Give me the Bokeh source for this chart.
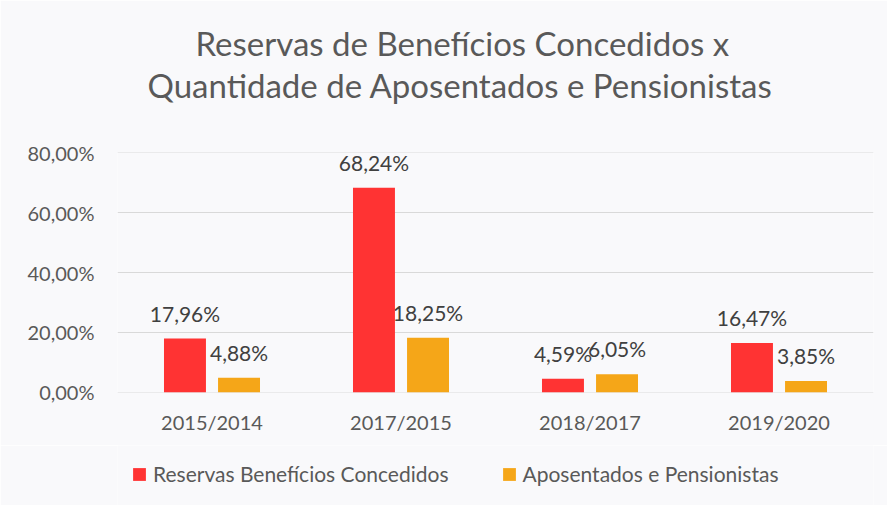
from bokeh.plotting import figure
from bokeh.layouts import column
from bokeh.models import (ColumnDataSource, FactorRange, LabelSet, Title, Legend, LegendItem,
                          FixedTicker, CustomJSTickFormatter, Range1d)
from bokeh.transform import dodge
from bokeh.core.properties import value
from bokeh.embed import file_html
from bokeh.resources import INLINE

# ---- data ----
categories = ["2015/2014", "2017/2015", "2018/2017", "2019/2020"]
reservas = [17.96, 68.24, 4.59, 16.47]
aposentados = [4.88, 18.25, 6.05, 3.85]
y_ticks = [0, 20, 40, 60, 80]
series_names = ["Reservas Benefícios Concedidos", "Aposentados e Pensionistas"]
title_lines = ["Reservas de Benefícios Concedidos x", "Quantidade de Aposentados e Pensionistas"]

def fmt(v):
    return ("%.2f" % v).replace(".", ",") + "%"

src = ColumnDataSource(dict(
    cat=categories,
    res=reservas,
    apo=aposentados,
    res_lbl=[fmt(v) for v in reservas],
    apo_lbl=[fmt(v) for v in aposentados],
))

FONT = "Lato"
BG = "#F9F9FB"
RED = "#FF3333"
ORANGE = "#F5A618"

p = figure(width=887, height=445, x_range=FactorRange(*categories, range_padding=0),
           y_range=(-0.02, 80.02), output_backend="svg", toolbar_location=None,
           min_border_left=117, min_border_right=14, min_border_top=152, min_border_bottom=53,
           background_fill_color=BG, border_fill_color=BG)
p.outline_line_color = None
p.title.text = ""

p.vbar(x=dodge("cat", -0.143, range=p.x_range), top="res", width=0.222, source=src,
       fill_color=RED, line_color=None)
p.vbar(x=dodge("cat", 0.143, range=p.x_range), top="apo", width=0.222, source=src,
       fill_color=ORANGE, line_color=None)

for col, lbl, off in (("res", "res_lbl", -0.143), ("apo", "apo_lbl", 0.143)):
    p.add_layout(LabelSet(x=dodge("cat", off, range=p.x_range), y=col, text=lbl, source=src,
                          y_offset=17, text_align="center", text_baseline="alphabetic",
                          text_font=value(FONT), text_font_size="21px", text_color="#404040"))

# axes
p.yaxis.ticker = FixedTicker(ticks=y_ticks)
p.yaxis.formatter = CustomJSTickFormatter(code="return tick.toFixed(2).replace('.', ',') + '%';")
for ax in (p.xaxis[0], p.yaxis[0]):
    ax.axis_line_color = None
    ax.major_tick_line_color = None
    ax.minor_tick_line_color = None
    ax.major_label_text_font = FONT
    ax.major_label_text_font_size = "20px"
    ax.major_label_text_color = "#595959"
p.yaxis.major_label_standoff = 17
p.xaxis.major_label_standoff = 11

p.xgrid.grid_line_color = None
p.ygrid.ticker = FixedTicker(ticks=y_ticks)
p.ygrid.grid_line_color = "#D9D9D9"
p.ygrid.grid_line_width = 1

# title: spacer + two lines stacked above the frame (first added = closest to frame)
p.add_layout(Title(text=" ", text_font=FONT, text_font_size="38px", standoff=0), "above")
p.add_layout(Title(text=title_lines[1], align="left", offset=30, standoff=0,
                   text_font=FONT, text_font_size="33px", text_font_style="normal",
                   text_color="#595959"), "above")
p.add_layout(Title(text=title_lines[0], align="left", offset=78, standoff=0,
                   text_font=FONT, text_font_size="33px", text_font_style="normal",
                   text_color="#595959"), "above")

# legend strip: a second figure below the chart (its frame is aligned with the chart's)
lf = figure(width=887, height=60, x_range=Range1d(0, 1), y_range=Range1d(0, 1),
            output_backend="svg", toolbar_location=None,
            x_axis_location=None, y_axis_location=None,
            min_border_left=0, min_border_right=0, min_border_top=0, min_border_bottom=0,
            background_fill_color=BG, border_fill_color=BG)
lf.outline_line_color = None
lf.xgrid.grid_line_color = None
lf.ygrid.grid_line_color = None
r_red = lf.vbar(x=[0.5], top=[0], width=0, fill_color=RED, line_color=None)
r_or = lf.vbar(x=[0.5], top=[0], width=0, fill_color=ORANGE, line_color=None)
leg = Legend(items=[LegendItem(label=series_names[0], renderers=[r_red]),
                    LegendItem(label=series_names[1], renderers=[r_or])],
             location=(14, 19), orientation="horizontal",
             glyph_width=16, glyph_height=16, label_height=20,
             label_standoff=6, padding=0, margin=0, spacing=52,
             label_text_font=FONT, label_text_font_size="21px", label_text_color="#595959",
             background_fill_alpha=0, border_line_color=None)
lf.add_layout(leg, "center")

layout = column(p, lf, spacing=0)
open("out.html", "w").write(file_html(layout, INLINE))
